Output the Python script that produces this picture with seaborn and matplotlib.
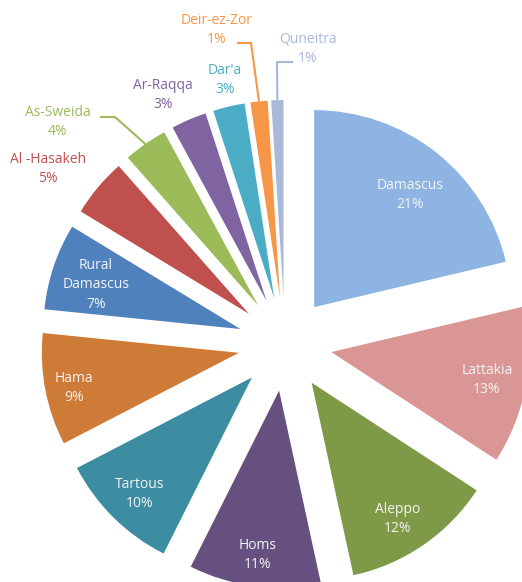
import math
import matplotlib
matplotlib.use("Agg")
import matplotlib.pyplot as plt
import seaborn as sns

# Share of each governorate (percent)
governorates = ["Damascus", "Lattakia", "Aleppo", "Homs", "Tartous", "Hama",
                "Rural\nDamascus", "Al -Hasakeh", "As-Sweida", "Ar-Raqqa",
                "Dar'a", "Deir-ez-Zor", "Quneitra"]
shares = [21.3, 12.9, 12.4, 10.8, 10.0, 9.2, 7.1, 4.8, 3.6, 2.9, 2.6, 1.4, 1.0]

slice_colors = ["#8EB4E3", "#D99694", "#7E9A47", "#65507F", "#3C8DA1", "#CD7B37",
                "#4F81BD", "#C0504D", "#9BBB59", "#8064A2", "#4BACC6", "#F79646",
                "#AAB8D9"]

# ---- layout (figure pixels, origin top-left) ----
W, H = 522, 582
CX, CY = 285, 344          # pie centre
R = 197                    # pie radius
EXPLODE = 47               # offset of every wedge

# label centres
label_px = [(410, 195), (487, 380), (398, 519), (258, 555), (140, 494), (74, 388),
            (96, 285), (48, 169), (58, 122), (163, 95), (225, 80), (217, 30),
            (308, 49)]
inside = [True] * 7 + [False] * 6
# leader lines: label-side start and bend point, then the wedge rim
leaders = {8: [(100, 117), (115, 117)],
           11: [(237, 43), (251, 43)],
           12: [(293, 62), (277, 62)]}


def to_data(px, py):
    return (px - CX) / R, (CY - py) / R


sns.set_theme(style="white")
plt.rcParams["font.family"] = ["Open Sans", "DejaVu Sans"]

fig = plt.figure(figsize=(W / 100, H / 100), dpi=100)
ax = fig.add_axes([0, 0, 1, 1])

palette = sns.color_palette(slice_colors)
wedges, _ = ax.pie(shares, colors=palette, startangle=90, counterclock=False,
                   radius=1.0, explode=[EXPLODE / R] * len(shares),
                   wedgeprops=dict(linewidth=0))

ax.set_xlim(-CX / R, (W - CX) / R)
ax.set_ylim(-(H - CY) / R, CY / R)
ax.set_aspect("auto")
ax.axis("off")

total = sum(shares)
for i, (name, val) in enumerate(zip(governorates, shares)):
    x, y = to_data(*label_px[i])
    color = "#F4F4F4" if inside[i] else slice_colors[i]
    ax.text(x, y, f"{name}\n{100 * val / total:.0f}%", ha="center", va="center",
            fontsize=10, color=color, linespacing=1.4)

for i, pts in leaders.items():
    w = wedges[i]
    mid = math.radians((w.theta1 + w.theta2) / 2)
    ex = w.center[0] + w.r * math.cos(mid)
    ey = w.center[1] + w.r * math.sin(mid)
    xs = [to_data(*p)[0] for p in pts] + [ex]
    ys = [to_data(*p)[1] for p in pts] + [ey]
    ax.plot(xs, ys, color=slice_colors[i], linewidth=1.5, solid_capstyle="butt")

fig.savefig("out.png", dpi=100, facecolor="white")
